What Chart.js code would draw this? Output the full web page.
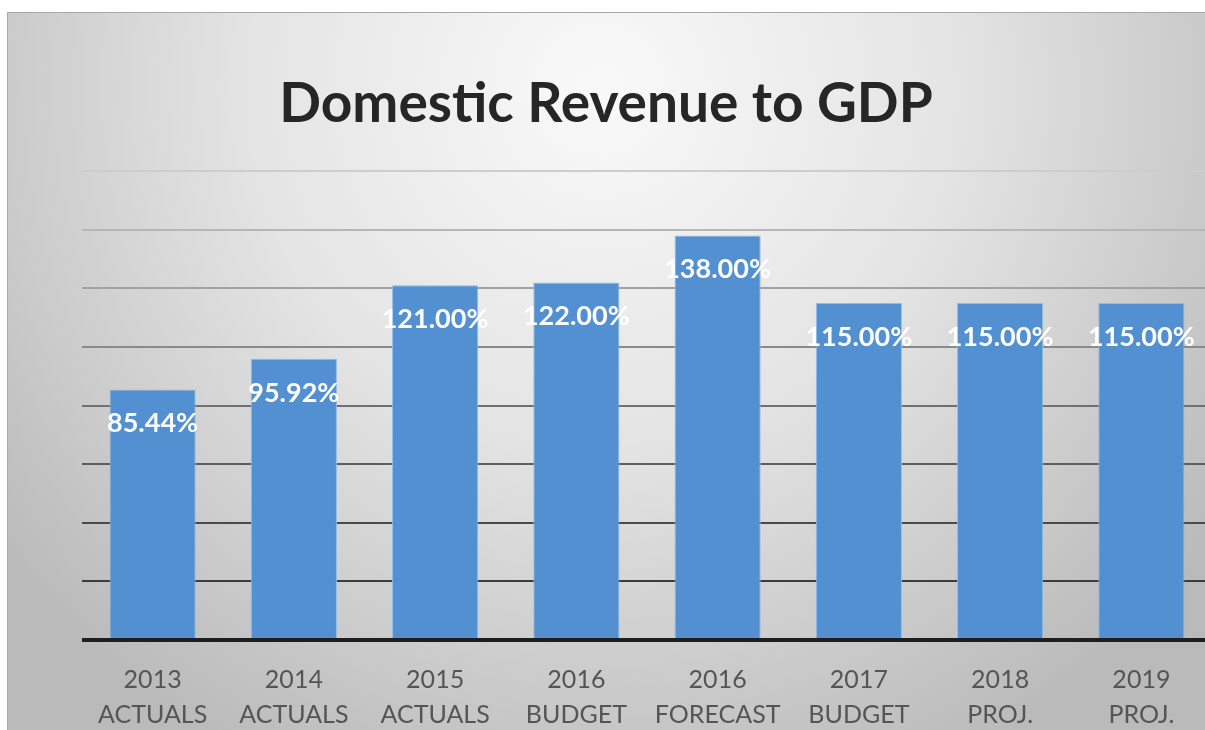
<!DOCTYPE html>
<html>
<head>
<meta charset="utf-8">
<title>Domestic Revenue to GDP</title>
<script src="https://cdn.jsdelivr.net/npm/chart.js@4"></script>
<style>
  html, body { margin: 0; padding: 0; background: #fff; overflow: hidden; }
  #wrap { width: 1220px; height: 760px; }
</style>
</head>
<body>
<div id="wrap"><canvas id="revenueChart" width="1220" height="760"></canvas></div>
<script>
const periods = [
    ['2013', 'ACTUALS'], ['2014', 'ACTUALS'], ['2015', 'ACTUALS'], ['2016', 'BUDGET'],
    ['2016', 'FORECAST'], ['2017', 'BUDGET'], ['2018', 'PROJ.'], ['2019', 'PROJ.']
];
const revenueToGdp = [85.44, 95.92, 121.00, 122.00, 138.00, 115.00, 115.00, 115.00];
const gridValues = [0, 20, 40, 60, 80, 100, 120, 140, 160];
const gridShades = ['#1e1e1e', '#3c3c3c', '#4a4a4a', '#5e5e5e', '#707070', '#8a8a8a', '#a2a2a2', '#b6b6b6', '#cdcdcd'];

const fontFamily = 'Lato, "Open Sans", sans-serif';

// grey slide-style panel behind the chart
const panelBackground = {
    id: 'panelBackground',
    beforeDraw(chart) {
        const ctx = chart.ctx;
        ctx.save();
        ctx.fillStyle = '#ffffff';
        ctx.fillRect(0, 0, chart.width, chart.height);
        const g = ctx.createRadialGradient(600, 90, 20, 600, 90, 760);
        g.addColorStop(0, '#f8f8f8');
        g.addColorStop(0.45, '#e4e4e4');
        g.addColorStop(1, '#bababa');
        ctx.fillStyle = g;
        ctx.fillRect(7, 12, chart.width - 7, chart.height - 12);
        ctx.strokeStyle = '#a8a8a8';
        ctx.lineWidth = 1;
        ctx.beginPath();
        ctx.moveTo(7.5, chart.height);
        ctx.lineTo(7.5, 12.5);
        ctx.lineTo(chart.width, 12.5);
        ctx.stroke();
        ctx.restore();
    }
};

// percentage labels just inside the top of each bar
const barValueLabels = {
    id: 'barValueLabels',
    afterDatasetsDraw(chart) {
        const ctx = chart.ctx;
        const meta = chart.getDatasetMeta(0);
        ctx.save();
        ctx.font = 'bold 27px ' + fontFamily;
        ctx.fillStyle = '#ffffff';
        ctx.textAlign = 'center';
        ctx.textBaseline = 'middle';
        meta.data.forEach(function (bar, i) {
            ctx.fillText(revenueToGdp[i].toFixed(2) + '%', bar.x, bar.y + 34);
        });
        ctx.restore();
    }
};

new Chart(document.getElementById('revenueChart'), {
    type: 'bar',
    data: {
        labels: periods,
        datasets: [{
            data: revenueToGdp,
            backgroundColor: '#5390d2',
            borderColor: '#8fbbe8',
            borderWidth: 1,
            barPercentage: 0.61,
            categoryPercentage: 1
        }]
    },
    options: {
        responsive: false,
        animation: false,
        layout: { padding: { left: 0, right: 8, top: 0, bottom: 6 } },
        plugins: {
            legend: { display: false },
            tooltip: { enabled: false },
            title: {
                display: true,
                text: 'Domestic Revenue to GDP',
                color: '#262626',
                font: { family: fontFamily, size: 55, weight: 'bold', lineHeight: 1.2 },
                padding: { top: 71, bottom: 34 }
            }
        },
        scales: {
            x: {
                grid: { display: false, drawTicks: false },
                border: { display: false },
                ticks: {
                    color: '#555555',
                    font: { family: fontFamily, size: 25, lineHeight: 1.4 },
                    padding: 22,
                    maxRotation: 0,
                    autoSkip: false
                }
            },
            y: {
                min: 0,
                max: 160,
                afterBuildTicks(scale) {
                    scale.ticks = gridValues.map(v => ({ value: v }));
                },
                afterFit(scale) {
                    scale.width = 82;
                },
                border: { display: false },
                grid: {
                    drawTicks: false,
                    color: ctx => gridShades[gridValues.indexOf(ctx.tick.value)] || '#999',
                    lineWidth: ctx => ctx.tick.value === 0 ? 4 : 2
                },
                ticks: { display: false }
            }
        }
    },
    plugins: [panelBackground, barValueLabels]
});
</script>
</body>
</html>
